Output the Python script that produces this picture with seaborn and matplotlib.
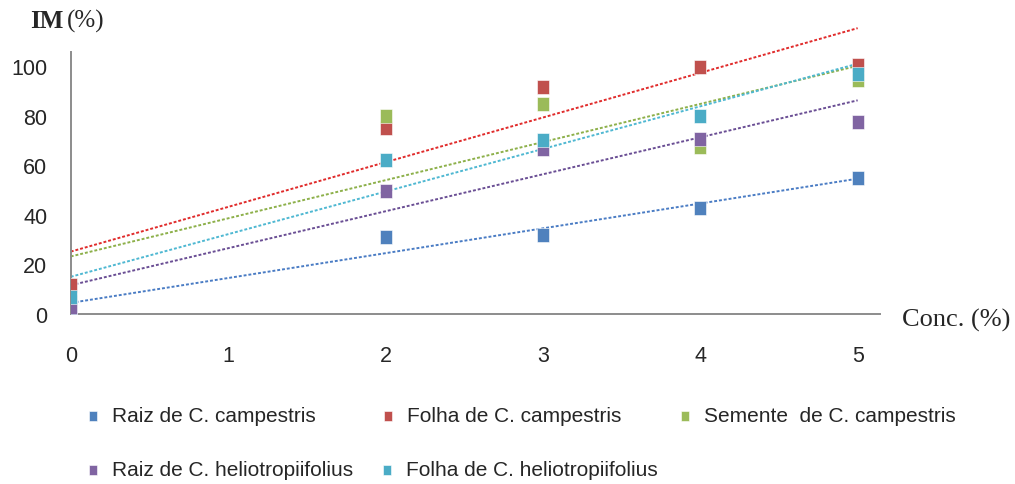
import matplotlib
matplotlib.use('Agg')
import matplotlib.pyplot as plt
import seaborn as sns
import pandas as pd

# Data
conc = [0, 2, 3, 4, 5]
raiz_campestris = [2, 31, 32, 42.7, 55]
folha_campestris = [11.5, 75, 91.5, 99.6, 100.5]
semente_campestris = [5, 80, 84.5, 67.3, 94.5]
raiz_helio = [2.8, 49.6, 66.5, 70.5, 77.4]
folha_helio = [6.8, 62, 70, 80, 96.8]

series_names = ["Raiz de C. campestris", "Folha de C. campestris",
                "Semente  de C. campestris", "Raiz de C. heliotropiifolius",
                "Folha de C. heliotropiifolius"]
series_values = [raiz_campestris, folha_campestris, semente_campestris,
                 raiz_helio, folha_helio]
marker_colors = ["#4F81BD", "#C0504D", "#9BBB59", "#8064A2", "#4BACC6"]
line_colors = ["#4A7CC4", "#E02B2B", "#8DB04A", "#6A4E94", "#4FB8D2"]

y_ticks = [0, 20, 40, 60, 80, 100]
x_ticks = [0, 1, 2, 3, 4, 5]

sns.set_style("white")
plt.rcParams['font.family'] = ['Liberation Sans', 'DejaVu Sans']

RECT = [(-0.78, -1), (0.78, -1), (0.78, 1), (-0.78, 1), (-0.78, -1)]

fig = plt.figure(figsize=(10.15, 4.85), dpi=100)
ax = fig.add_axes([0.0697, 0.3505, 0.797, 0.6136])

for name, vals, mc, lc in zip(series_names, series_values, marker_colors, line_colors):
    df = pd.DataFrame({'conc': conc, 'im': vals})
    sns.regplot(data=df, x='conc', y='im', ci=None, ax=ax, label=name,
                marker=RECT,
                scatter_kws={'s': 110, 'color': mc, 'edgecolors': 'white',
                             'linewidths': 0.4, 'alpha': 1, 'zorder': 3},
                line_kws={'color': lc, 'lw': 1.4, 'linestyle': (0, (1.5, 1)),
                          'zorder': 2, 'clip_on': False})

ax.set_xlim(0, 5.14)
ax.set_ylim(0, 120)
ax.set_xticks(x_ticks)
ax.set_yticks(y_ticks)
ax.set_xlabel("")
ax.set_ylabel("")
for s in ['top', 'right']:
    ax.spines[s].set_visible(False)
ax.spines['left'].set_bounds(0, 105.5)
for s in ['left', 'bottom']:
    ax.spines[s].set_color('#8C8C8C')
    ax.spines[s].set_linewidth(1.4)
ax.tick_params(axis='both', which='major', direction='out', color='#8C8C8C',
               width=1.2, labelsize=15.5, labelcolor='#262626')
ax.tick_params(axis='y', length=5, pad=12)
ax.tick_params(axis='x', length=7, pad=15)
ax.grid(False)

# axis titles
fig.text(30 / 1015, 1 - 21 / 485, "IM", family='Liberation Serif',
         fontweight='bold', fontsize=18, va='center', ha='left')
fig.text(67 / 1015, 1 - 21 / 485, "(%)", family='Liberation Serif',
         fontsize=18, va='center', ha='left')
fig.text(902 / 1015, 1 - 320 / 485, "Conc. (%)", family='Liberation Serif',
         fontsize=19, va='center', ha='left')

# legend laid out like the Excel one: 3 entries on row 1, 2 on row 2
handles, labels = ax.get_legend_handles_labels()
legend_pos = [(93, 417), (388, 417), (685, 417), (93, 471), (387, 471)]
fs = 15
px_per_em = fs * 100 / 72
hl = 0.6
for h, l, (mx, my) in zip(handles, labels, legend_pos):
    left = mx - hl * px_per_em / 2
    fig.legend(handles=[h], labels=[l], loc='center left',
               bbox_to_anchor=(left / 1015, 1 - my / 485),
               frameon=False, fontsize=fs, handlelength=hl,
               handletextpad=0.6, borderpad=0, borderaxespad=0,
               markerscale=0.7, labelcolor='#262626')

fig.savefig("out.png", dpi=100)
